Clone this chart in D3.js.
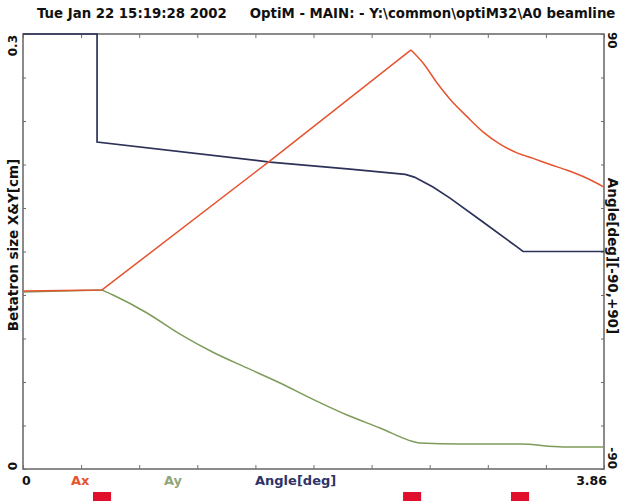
<!DOCTYPE html>
<html><head><meta charset="utf-8">
<script src="https://cdn.jsdelivr.net/npm/d3@7"></script>
<style>
html,body{margin:0;padding:0;background:#fff;overflow:hidden;}
svg{display:block;}
text{font-family:"DejaVu Sans",Arial,sans-serif;font-weight:bold;}
</style></head>
<body>
<script>
// ---- data ----
const titleText = "Tue Jan 22 15:19:28 2002     OptiM - MAIN: - Y:\\common\\optiM32\\A0 beamline";
const xDomain = [0, 3.86];
const yLeftDomain = [0, 0.3];
const yRightDomain = [-90, 90];
const legendLabels = ["Ax", "Ay", "Angle[deg]"];
const leftTitle = "Betatron size X&Y[cm]";
const rightTitle = "Angle[deg][-90,+90]";

// Ax (betatron size X, cm)
const axS = [0, 0.525, 1.641, 2.578, 2.658, 2.751, 2.837, 2.950, 3.056, 3.169, 3.282, 3.389, 3.502, 3.615, 3.721, 3.860];
const axV = [0.1228, 0.1235, 0.2125, 0.2890, 0.2800, 0.2662, 0.2550, 0.2430, 0.2325, 0.2240, 0.2180, 0.2142, 0.2100, 0.2060, 0.2017, 0.1945];

// Ay (betatron size Y, cm)
const ayS = [0, 0.525, 0.598, 0.824, 1.043, 1.262, 1.488, 1.708, 1.927, 2.153, 2.372, 2.591, 2.638, 2.904, 3.302, 3.588, 3.860];
const ayV = [0.1221, 0.1234, 0.1200, 0.1076, 0.0930, 0.0805, 0.0697, 0.0593, 0.0480, 0.0372, 0.0283, 0.0190, 0.0179, 0.0172, 0.0172, 0.0152, 0.0152];

// Angle [deg]
const angS = [0, 0.492, 0.492, 1.641, 2.173, 2.540, 2.600, 2.724, 2.837, 3.056, 3.282, 3.322, 3.860];
const angV = [90, 90, 45.3, 37.0, 34.1, 31.9, 30.8, 26.7, 22.1, 12.2, 1.9, 0, 0];

// magnet elements (start, length)
const magStart = [0.465, 2.525, 3.242];
const magLen = [0.12, 0.12, 0.12];

// ---- drawing ----
const W = 621, H = 504;
const m = {left: 23, right: 604, top: 34, bottom: 469};
const svg = d3.select("body").append("svg").attr("width", W).attr("height", H);

const x = d3.scaleLinear().domain(xDomain).range([m.left, m.right]);
const yL = d3.scaleLinear().domain(yLeftDomain).range([m.bottom, m.top]);
const yR = d3.scaleLinear().domain(yRightDomain).range([m.bottom, m.top]);

svg.append("text").attr("x", 37).attr("y", 18).attr("font-size", 13.3).attr("fill", "#111")
  .attr("xml:space", "preserve").style("white-space", "pre").text(titleText);

const frameCol = "#6e6e6e";
const xTicks = d3.range(0, 11).map(i => xDomain[1] * i / 10);
const ylTicks = d3.range(0, 11).map(i => yLeftDomain[1] * i / 10);
const yrTicks = d3.range(0, 11).map(i => yRightDomain[0] + (yRightDomain[1] - yRightDomain[0]) * i / 10);

function styleAxis(g) {
  g.select(".domain").remove();
  g.selectAll(".tick line").attr("stroke", frameCol).attr("stroke-width", 1);
  g.selectAll(".tick text").remove();
}
svg.append("g").attr("transform", `translate(0,${m.bottom})`)
  .call(d3.axisBottom(x).tickValues(xTicks).tickSize(-4)).call(styleAxis);
svg.append("g").attr("transform", `translate(0,${m.top})`)
  .call(d3.axisTop(x).tickValues(xTicks).tickSize(-4)).call(styleAxis);
svg.append("g").attr("transform", `translate(${m.left},0)`)
  .call(d3.axisLeft(yL).tickValues(ylTicks).tickSize(-3)).call(styleAxis);
svg.append("g").attr("transform", `translate(${m.right},0)`)
  .call(d3.axisRight(yR).tickValues(yrTicks).tickSize(-3)).call(styleAxis);

svg.append("rect").attr("x", m.left).attr("y", m.top)
  .attr("width", m.right - m.left).attr("height", m.bottom - m.top)
  .attr("fill", "none").attr("stroke", frameCol).attr("stroke-width", 1.6);

svg.append("clipPath").attr("id", "c").append("rect")
  .attr("x", m.left).attr("y", m.top - 1).attr("width", m.right - m.left).attr("height", m.bottom - m.top + 2);

const plot = svg.append("g").attr("clip-path", "url(#c)");
const lineLin = d3.line().x(d => x(d[0])).y(d => yL(d[1]));
const lineSmooth = d3.line().x(d => x(d[0])).y(d => yL(d[1])).curve(d3.curveMonotoneX);
const lineR = d3.line().x(d => x(d[0])).y(d => yR(d[1]));

function drawSeries(S, V, kink, col, w) {
  const pts = d3.zip(S, V);
  plot.append("path").datum(pts.slice(0, kink + 1)).attr("d", lineLin)
    .attr("fill", "none").attr("stroke", col).attr("stroke-width", w).attr("stroke-linejoin", "round");
  plot.append("path").datum(pts.slice(kink)).attr("d", lineSmooth)
    .attr("fill", "none").attr("stroke", col).attr("stroke-width", w).attr("stroke-linejoin", "round");
}
drawSeries(ayS, ayV, 1, "#7f9a5a", 1.5);
plot.append("path").datum(d3.zip(angS, angV)).attr("d", lineR)
  .attr("fill", "none").attr("stroke", "#2c3258").attr("stroke-width", 1.7);
drawSeries(axS, axV, 3, "#e5532f", 1.5);

function rotText(tx, ty, ang, anchor, txt, size, col) {
  svg.append("text").attr("transform", `translate(${tx},${ty}) rotate(${ang})`)
    .attr("text-anchor", anchor).attr("font-size", size).attr("fill", col || "#111").text(txt);
}
rotText(17, m.top + 1, -90, "end", String(yLeftDomain[1]), 12);
rotText(17, 466, -90, "middle", String(yLeftDomain[0]), 12);
rotText(18, 245, -90, "middle", leftTitle, 13.5);
rotText(608, m.top - 2, 90, "start", String(yRightDomain[1]), 12);
rotText(608, m.bottom, 90, "end", String(yRightDomain[0]), 12);
rotText(608, 256, 90, "middle", rightTitle, 13.5);

svg.append("text").attr("x", 22).attr("y", 485).attr("font-size", 12.5).attr("fill", "#111").text(String(xDomain[0]));
svg.append("text").attr("x", 607).attr("y", 485).attr("text-anchor", "end").attr("font-size", 12.5).attr("fill", "#111").text(String(xDomain[1]));

const legX = [71, 164, 255];
const legCol = ["#e5532f", "#93a67a", "#2e3468"];
legendLabels.forEach((t, i) => {
  svg.append("text").attr("x", legX[i]).attr("y", 485).attr("font-size", 13).attr("fill", legCol[i]).text(t);
});

svg.selectAll("rect.mag").data(d3.zip(magStart, magLen)).join("rect").attr("class", "mag")
  .attr("x", d => x(d[0])).attr("width", d => x(d[0] + d[1]) - x(d[0]))
  .attr("y", 492).attr("height", 9).attr("fill", "#e0102c");
</script>
</body></html>
